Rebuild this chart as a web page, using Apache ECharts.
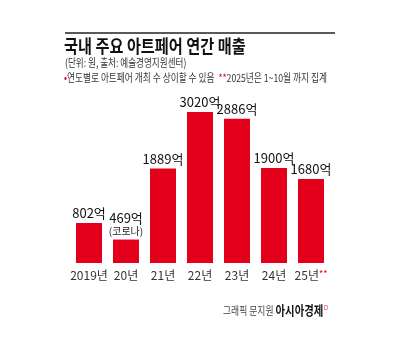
<!DOCTYPE html>
<html>
<head>
<meta charset="utf-8">
<script src="https://cdn.jsdelivr.net/npm/echarts@6/dist/echarts.min.js"></script>
<style>
  html, body { margin: 0; padding: 0; background: #fff; }
  #chart { width: 400px; height: 351px; }
</style>
</head>
<body>
<div id="chart"></div>
<script>
var years = ['2019년', '20년', '21년', '22년', '23년', '24년', '25년'];
var sales = [802, 469, 1889, 3020, 2886, 1900, 1680];
var notes = ['', '(코로나)', '', '', '', '', ''];

var font = '"Noto Sans CJK KR", "Noto Sans", sans-serif';
var red = '#e3001b';

var dom = document.getElementById('chart');
var myChart = echarts.init(dom, null, { renderer: 'canvas' });

var option = {
  backgroundColor: '#fff',
  animation: false,
  textStyle: { fontFamily: font },
  graphic: [
    { type: 'line', shape: { x1: 65, y1: 33, x2: 335, y2: 33 }, style: { stroke: '#222', lineWidth: 1.5 } },
    { type: 'text', x: 64, y: 37, scaleX: 0.845, style: { text: '국내 주요 아트페어 연간 매출', font: 'bold 18px ' + font, fill: '#111' } },
    { type: 'text', x: 65, y: 57, scaleX: 0.78, style: { text: '(단위: 원, 출처: 예술경영지원센터)', font: '11px ' + font, fill: '#333' } },
    { type: 'text', x: 64, y: 72, scaleX: 0.79, style: {
      text: '{r|•}{t|연도별로 아트페어 개최 수 상이할 수 있음  }{r|**}{t|2025년은 1~10월 까지 집계}',
      rich: {
        r: { fill: red, font: '11px ' + font },
        t: { fill: '#333', font: '11px ' + font }
      }
    } },
    { type: 'text', x: 223, y: 304, scaleX: 0.8, style: {
      text: '{g|그래픽 문지원 }{b|아시아경제}{r|ㅁ}',
      rich: {
        g: { fill: '#444', font: '11px ' + font },
        b: { fill: '#111', font: 'bold 13px ' + font },
        r: { fill: red, font: '7px ' + font, verticalAlign: 'top' }
      }
    } }
  ],
  grid: { left: 70.5, right: 70.5, top: 88, bottom: 88 },
  xAxis: {
    type: 'category',
    data: years,
    axisLine: { show: false },
    axisTick: { show: false },
    axisLabel: {
      interval: 0,
      margin: 6,
      fontSize: 12,
      color: '#333',
      fontFamily: font,
      formatter: function (v, i) {
        return i === years.length - 1 ? v + '{r|**}' : v;
      },
      rich: { r: { color: red, fontSize: 9, verticalAlign: 'top', fontFamily: font } }
    }
  },
  yAxis: {
    type: 'value',
    min: 0,
    max: 3500,
    show: false,
    splitLine: { show: false }
  },
  series: [{
    type: 'bar',
    data: sales,
    barWidth: 26,
    itemStyle: { color: red },
    label: {
      show: true,
      position: 'top',
      distance: 2,
      color: '#111',
      fontFamily: font,
      fontSize: 13,
      formatter: function (p) {
        var n = notes[p.dataIndex];
        return n ? '{v|' + p.value + '억}\n{n|' + n + '}' : '{v|' + p.value + '억}';
      },
      rich: {
        v: { fontSize: 13, color: '#111', fontFamily: font, lineHeight: 15 },
        n: { fontSize: 10, color: '#222', fontFamily: font, lineHeight: 12 }
      }
    }
  }]
};

myChart.setOption(option);
window.addEventListener('resize', myChart.resize);
</script>
</body>
</html>
